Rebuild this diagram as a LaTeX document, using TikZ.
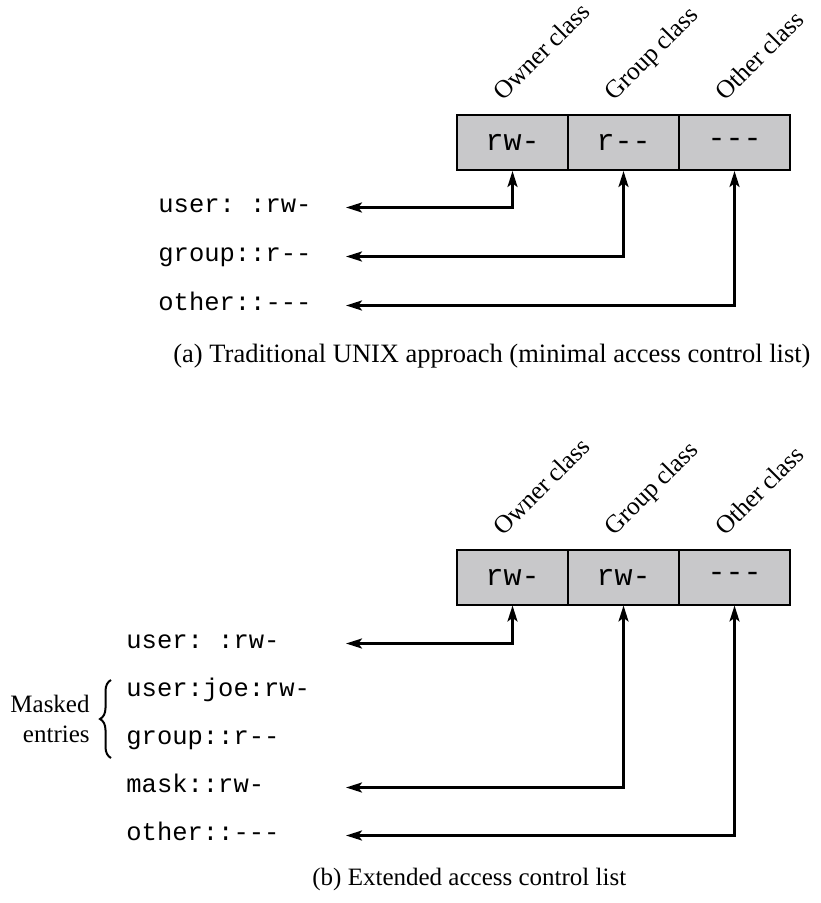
\documentclass[tikz,border=0pt]{standalone}
\usepackage{fontspec}
\setmainfont{Liberation Serif}
\setmonofont{Liberation Mono}
\usetikzlibrary{arrows.meta,decorations.pathreplacing}
\definecolor{cellgray}{RGB}{200,200,202}
\tikzset{
  cell/.style={draw=black, line width=1pt, fill=cellgray, minimum width=55.5pt, minimum height=27.5pt, inner sep=0pt, font=\fontsize{15}{18}\selectfont\ttfamily},
  rowtxt/.style={anchor=west, inner sep=0pt, text height=1ex, text depth=0pt, font=\fontsize{12.75}{15}\selectfont\ttfamily},
  classlbl/.style={anchor=base west, rotate=45, inner sep=0pt, font=\fontsize{12.75}{15}\selectfont},
  captxt/.style={anchor=base west, inner sep=0pt, font=\fontsize{12.5}{15}\selectfont},
  conn/.style={line width=1.25pt, {Stealth[length=8pt,width=5pt,inset=1.8pt]}-{Stealth[length=8pt,width=5pt,inset=1.8pt]}}
}
\begin{document}
\begin{tikzpicture}[x=0.5pt,y=-0.5pt]
\useasboundingbox (0,0) rectangle (820,903);
\coordinate (L) at (346,0);
% ---------- (a) ----------
\node[cell] (a1) at (512.5,142.5) {rw-};
\node[cell] (a2) at (623.5,142.5) {r-{}-};
\node[cell] (a3) at (734.5,142.5) {-{}-{}-};
\node[classlbl] (ola) at (503,102) {Owner class};
\node[classlbl] (gla) at (614,102) {Group class};
\node[classlbl] (xla) at (725,102) {Other class};
\node[rowtxt] (ra1) at (158,207.5) {user: :rw-};
\node[rowtxt] (ra2) at (158,256.5) {group::r-{}-};
\node[rowtxt] (ra3) at (158,305.5) {other::-{}-{}-};
\draw[conn] (ra1.east -| L) -| (a1.south);
\draw[conn] (ra2.east -| L) -| (a2.south);
\draw[conn] (ra3.east -| L) -| (a3.south);
\node[captxt, font=\fontsize{13.25}{16}\selectfont] (capa) at (173,362) {(a) Traditional UNIX approach (minimal access control list)};
% ---------- (b) ----------
\node[cell] (b1) at (512.5,577) {rw-};
\node[cell] (b2) at (623.5,577) {rw-};
\node[cell] (b3) at (734.5,577) {-{}-{}-};
\node[classlbl] (olb) at (503,537) {Owner class};
\node[classlbl] (glb) at (614,537) {Group class};
\node[classlbl] (xlb) at (725,537) {Other class};
\node[rowtxt] (rb1) at (126,643.5) {user: :rw-};
\node[rowtxt] (rb2) at (126,691.5) {user:joe:rw-};
\node[rowtxt] (rb3) at (126,739.5) {group::r-{}-};
\node[rowtxt] (rb4) at (126,787.5) {mask::rw-};
\node[rowtxt] (rb5) at (126,835.5) {other::-{}-{}-};
\draw[conn] (rb1.east -| L) -| (b1.south);
\draw[conn] (rb4.east -| L) -| (b2.south);
\draw[conn] (rb5.east -| L) -| (b3.south);
\draw[line width=1pt, decorate, decoration={brace, amplitude=5.5pt}] (111,758) -- (111,680);
\node[captxt, anchor=base east] (m1) at (90,712) {Masked};
\node[captxt, anchor=base east] (m2) at (90,742) {entries};
\node[captxt] (capb) at (312,885) {(b) Extended access control list};
\end{tikzpicture}
\end{document}
